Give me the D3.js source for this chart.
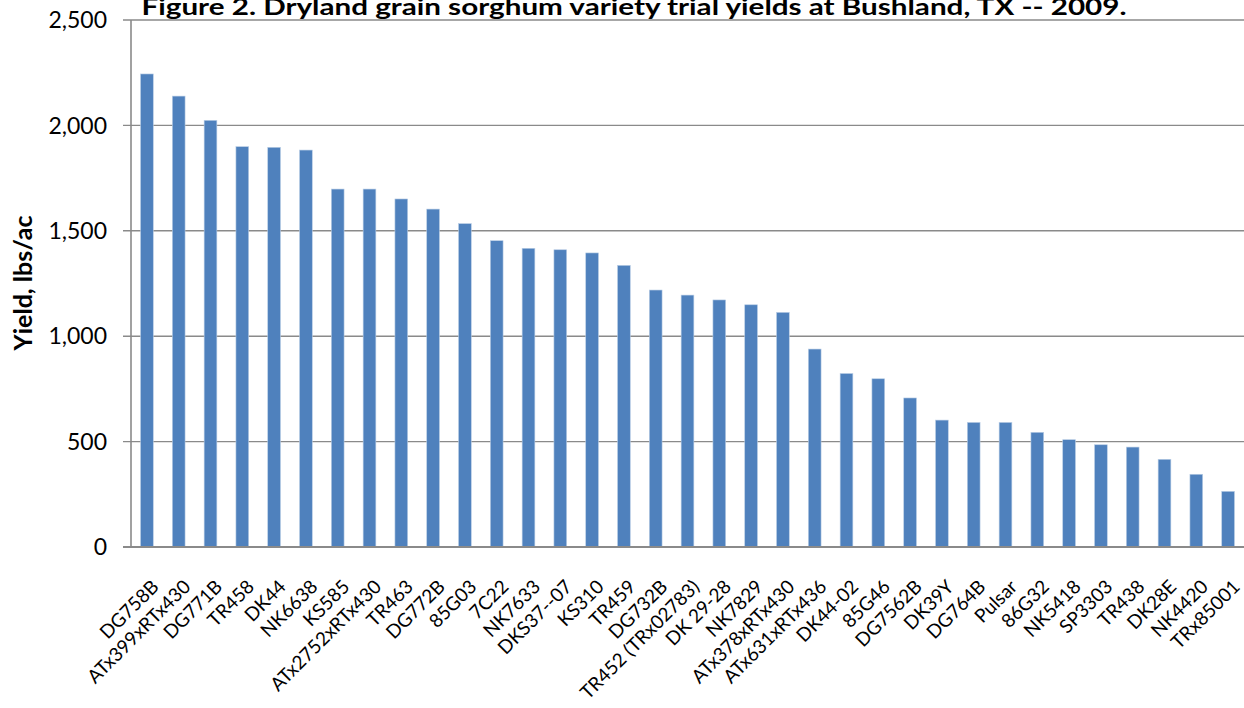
<!DOCTYPE html>
<html>
<head>
<meta charset="utf-8">
<script src="https://cdn.jsdelivr.net/npm/d3@7"></script>
<style>
  body { margin: 0; background: #fff; }
  svg { display: block; font-family: Lato, "Open Sans", sans-serif; }
</style>
</head>
<body>
<div id="chart"></div>
<script>
// variety names, in plotted order
var varieties = ["DG758B", "ATx399xRTx430", "DG771B", "TR458", "DK44", "NK6638", "KS585",
    "ATx2752xRTx430", "TR463", "DG772B", "85G03", "7C22", "NK7633", "DKS37--07", "KS310",
    "TR459", "DG732B", "TR452 (TRx02783)", "DK 29-28", "NK7829", "ATx378xRTx430",
    "ATx631xRTx436", "DK44-02", "85G46", "DG7562B", "DK39Y", "DG764B", "Pulsar", "86G32",
    "NK5418", "SP3303", "TR438", "DK28E", "NK4420", "TRx85001"];

// yield, lbs/ac
var yields = [2244, 2139, 2024, 1899, 1896, 1883, 1698, 1698, 1651, 1603, 1534, 1453, 1417,
    1410, 1395, 1336, 1219, 1195, 1172, 1149, 1113, 939, 823, 798, 707, 602, 591, 591, 544,
    509, 485, 474, 416, 345, 264];

var yTicks = [0, 500, 1000, 1500, 2000, 2500];

var titleText = "Figure 2. Dryland grain sorghum variety trial yields at Bushland, TX -- 2009.";
var yTitle = "Yield, lbs/ac";

var W = 1244, H = 708;
var plot = { left: 131, right: 1244, top: 20, bottom: 547 };

var data = varieties.map(function (v, i) {
    return { name: v, value: yields[i] };
});

var svg = d3.select("#chart")
    .append("svg")
    .attr("width", W)
    .attr("height", H);

var x = d3.scaleBand()
    .domain(varieties)
    .range([plot.left, plot.right])
    .paddingInner(0.6)
    .paddingOuter(0.3);

var y = d3.scaleLinear()
    .domain([0, 2500])
    .range([plot.bottom, plot.top]);

// gridlines with short outward ticks
svg.append("g")
    .selectAll("line")
    .data(yTicks)
    .enter()
    .append("line")
    .attr("x1", plot.left - 8)
    .attr("x2", plot.right)
    .attr("y1", function (d) { return y(d); })
    .attr("y2", function (d) { return y(d); })
    .style("stroke", "#8a8a8a")
    .style("stroke-width", 1.4);

// y tick labels
svg.append("g")
    .selectAll("text")
    .data(yTicks)
    .enter()
    .append("text")
    .attr("x", plot.left - 24)
    .attr("y", function (d) { return y(d); })
    .attr("dy", "0.36em")
    .attr("text-anchor", "end")
    .style("font-size", "23px")
    .style("fill", "#000")
    .text(function (d) { return d3.format(",")(d); });

// bars
svg.append("g")
    .selectAll("rect")
    .data(data)
    .enter()
    .append("rect")
    .attr("x", function (d) { return x(d.name); })
    .attr("y", function (d) { return y(d.value); })
    .attr("width", x.bandwidth())
    .attr("height", function (d) { return y(0) - y(d.value); })
    .style("fill", "#4f81bd")
    .style("stroke", "#b9cde5")
    .style("stroke-width", 0.6);

// axis lines
svg.append("line")
    .attr("x1", plot.left).attr("x2", plot.left)
    .attr("y1", plot.top).attr("y2", plot.bottom)
    .style("stroke", "#8a8a8a")
    .style("stroke-width", 1.6);

svg.append("line")
    .attr("x1", plot.left - 8).attr("x2", plot.right)
    .attr("y1", plot.bottom).attr("y2", plot.bottom)
    .style("stroke", "#8a8a8a")
    .style("stroke-width", 1.8);

// x labels, rotated
svg.append("g")
    .selectAll("text")
    .data(varieties)
    .enter()
    .append("text")
    .attr("text-anchor", "end")
    .attr("transform", function (d) {
        return "translate(" + (x(d) + x.bandwidth() / 2 + 13) + "," + (plot.bottom + 41) + ") rotate(-45)";
    })
    .style("font-size", "19px")
    .style("fill", "#000")
    .text(function (d) { return d; });

// y axis title, sized to the reference length
var yt = svg.append("text")
    .attr("transform", "translate(32,283) rotate(-90)")
    .attr("text-anchor", "middle")
    .style("font-size", "24px")
    .style("font-weight", "bold")
    .text(yTitle);
var ytLen = yt.node().getComputedTextLength();
yt.style("font-size", (24 * 135 / ytLen) + "px");

// chart title (cut at the top as in the original)
svg.append("text")
    .attr("x", 634)
    .attr("y", 15)
    .attr("text-anchor", "middle")
    .attr("textLength", 985)
    .attr("lengthAdjust", "spacingAndGlyphs")
    .style("font-size", "23px")
    .style("font-weight", "bold")
    .text(titleText);
</script>
</body>
</html>
